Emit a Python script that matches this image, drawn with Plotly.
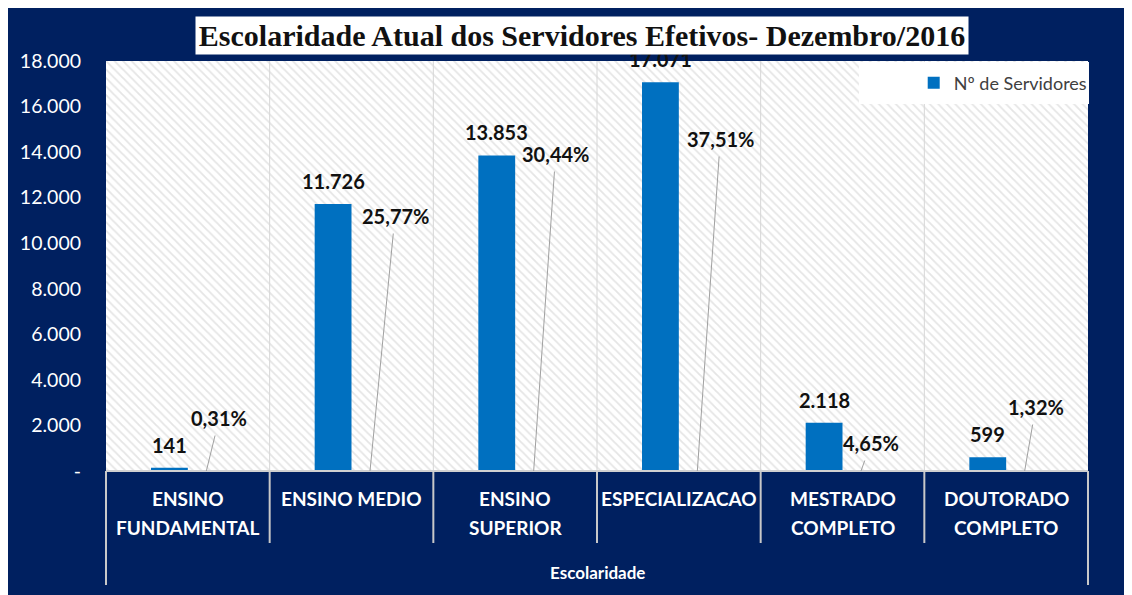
import plotly.graph_objects as go

# ---------------- data ----------------
categories = ["ENSINO FUNDAMENTAL", "ENSINO MEDIO", "ENSINO SUPERIOR",
              "ESPECIALIZACAO", "MESTRADO COMPLETO", "DOUTORADO COMPLETO"]
category_lines = [["ENSINO", "FUNDAMENTAL"], ["ENSINO MEDIO"], ["ENSINO", "SUPERIOR"],
                  ["ESPECIALIZACAO"], ["MESTRADO", "COMPLETO"], ["DOUTORADO", "COMPLETO"]]
servidores = [141, 11726, 13853, 17071, 2118, 599]
value_labels = ["141", "11.726", "13.853", "17.071", "2.118", "599"]
percent_labels = ["0,31%", "25,77%", "30,44%", "37,51%", "4,65%", "1,32%"]
y_tick_values = [0, 2000, 4000, 6000, 8000, 10000, 12000, 14000, 16000, 18000]
y_tick_labels = ["-", "2.000", "4.000", "6.000", "8.000", "10.000", "12.000",
                 "14.000", "16.000", "18.000"]
series_name = "Nº de Servidores"
title_text = "Escolaridade Atual dos Servidores Efetivos- Dezembro/2016"
x_title = "Escolaridade"

# ---------------- style ----------------
NAVY = "#002060"
BLUE = "#0070C0"
Y_MAX = 18000
W, H = 1132, 595
OFF = 8  # page body margin
# screen-pixel plot box in the reference
PL, PR, PT, PB = 102, 1088, 61, 471
ML, MT = PL - OFF, PT - OFF
MR, MB = W - (PR - OFF), H - (PB - OFF)
PW, PH = PR - PL, PB - PT
FONT = "Lato"


def px_to_paper_x(px):
    return (px - PL) / PW


def px_to_paper_y(py):
    return (PB - py) / PH


# pixel offsets of the percentage labels relative to the leader-line foot
pct_offsets = [(13, -53), (25, -255), (22, -317), (23, -332), (10, -28), (11, -64)]

fig = go.Figure()

# hatched plot background
fig.add_trace(go.Bar(
    x=list(range(len(categories))), y=[Y_MAX] * len(categories), width=1,
    marker=dict(color="white", line=dict(width=0),
                pattern=dict(shape="\\", fgcolor="#cccccc", bgcolor="white",
                             size=6, solidity=0.3)),
    showlegend=False, hoverinfo="skip"))

# data bars
fig.add_trace(go.Bar(
    x=list(range(len(categories))), y=servidores, name=series_name,
    width=0.225, offset=-0.225,
    marker=dict(color=BLUE, line=dict(width=0)),
    showlegend=True))

shapes = []
# inner dividers
for i in range(1, len(categories)):
    shapes.append(dict(type="line", xref="x", yref="paper", layer="above",
                       x0=i - 0.5, x1=i - 0.5, y0=0, y1=1,
                       line=dict(color="#d6d6d6", width=1)))
    shapes.append(dict(type="line", xref="x", yref="paper", layer="above",
                       x0=i - 0.5, x1=i - 0.5, y0=0, y1=px_to_paper_y(543),
                       line=dict(color="#c8c8c8", width=2)))
# outer dividers
for xp in (0, 1):
    shapes.append(dict(type="line", xref="paper", yref="paper", layer="above",
                       x0=xp, x1=xp, y0=0, y1=px_to_paper_y(585),
                       line=dict(color="#c8c8c8", width=2)))
# baseline
shapes.append(dict(type="line", xref="paper", yref="paper", layer="above",
                   x0=0, x1=1, y0=0, y1=0, line=dict(color="#d0d0d0", width=2)))
# legend box
shapes.append(dict(type="rect", xref="paper", yref="paper", layer="above",
                   x0=px_to_paper_x(858), x1=px_to_paper_x(1089),
                   y0=px_to_paper_y(104), y1=px_to_paper_y(62),
                   fillcolor="white", line=dict(width=0)))

annotations = []
# value labels
for i, (v, lab) in enumerate(zip(servidores, value_labels)):
    annotations.append(dict(x=i, y=v, xref="x", yref="y", text=lab,
                            showarrow=False, xshift=-18.5, yanchor="bottom", yshift=9,
                            font=dict(family=FONT, size=20, color="#111111", weight="bold")))
# percentage labels with leader lines
for i, (lab, (ax, ay)) in enumerate(zip(percent_labels, pct_offsets)):
    annotations.append(dict(x=i, y=0, xref="x", yref="y", text=lab,
                            showarrow=True, arrowhead=0, arrowwidth=1, arrowcolor="#a0a0a0",
                            ax=ax, ay=ay, axref="pixel", ayref="pixel", xshift=18.5,
                            borderpad=5,
                            font=dict(family=FONT, size=20, color="#111111", weight="bold")))
# category labels
for i, lines in enumerate(category_lines):
    for j, line in enumerate(lines):
        annotations.append(dict(x=i, y=0, xref="x", yref="paper", text=line,
                                showarrow=False, yanchor="middle", yshift=-27 - 29 * j,
                                font=dict(family=FONT, size=19, color="white", weight="bold")))
# axis title
annotations.append(dict(x=0.5, y=0, xref="paper", yref="paper", text=x_title,
                        showarrow=False, yanchor="middle", yshift=-101,
                        font=dict(family=FONT, size=17, color="white", weight="bold")))
# chart title (drawn last so it covers the top label)
annotations.append(dict(x=px_to_paper_x(580), y=px_to_paper_y(36), xref="paper", yref="paper",
                        text=title_text, showarrow=False, xanchor="center", yanchor="middle",
                        width=770, height=35, bgcolor="white", borderpad=1,
                        font=dict(family="Liberation Serif", size=30, color="#111111",
                                  weight="bold")))

fig.update_layout(
    width=W, height=H,
    margin=dict(l=ML, r=MR, t=MT, b=MB),
    paper_bgcolor=NAVY, plot_bgcolor="white",
    barmode="overlay",
    showlegend=True,
    legend=dict(x=px_to_paper_x(913), y=px_to_paper_y(83), xanchor="left", yanchor="middle",
                bgcolor="rgba(0,0,0,0)", borderwidth=0,
                font=dict(family=FONT, size=18, color="#404040")),
    xaxis=dict(range=[-0.5, len(categories) - 0.5], showticklabels=False, showgrid=False,
               zeroline=False, showline=False, ticks=""),
    yaxis=dict(range=[0, Y_MAX], tickvals=y_tick_values, ticktext=y_tick_labels,
               showgrid=False, zeroline=False, showline=False, ticks="",
               ticklabelstandoff=24,
               tickfont=dict(family=FONT, size=19.5, color="white")),
    shapes=shapes, annotations=annotations,
)

fig.write_html("out.html")
